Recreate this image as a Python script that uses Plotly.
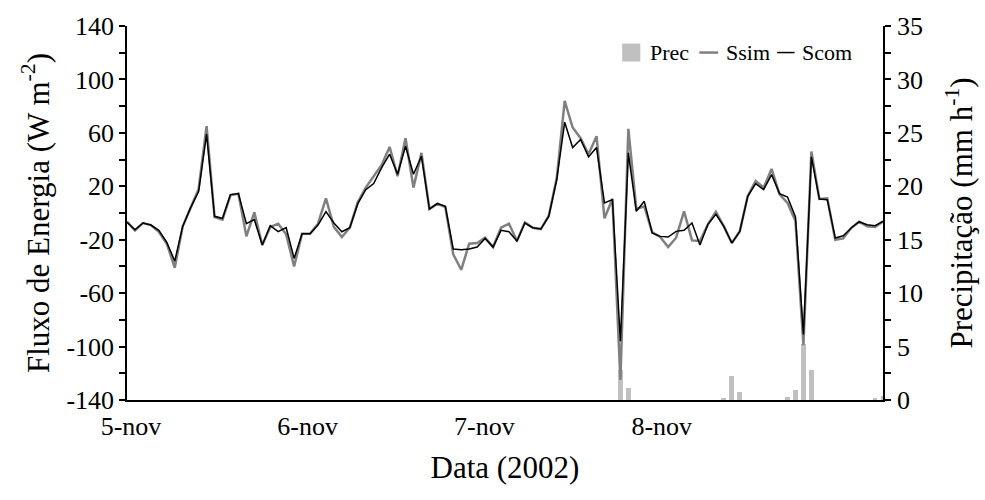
import plotly.graph_objects as go

hours = list(range(96))

ssim = [-6.5, -13, -7.5, -9, -14, -23, -41, -10, 4, 18, 65, -3, -5,
        13.25, 14.5, -17.5, 0.5, -24, -10.5, -8, -16, -40, -15.5, -15.5, -8, 11, -10.5, -18, -11,
        8, 19, 27.5, 36, 49.5, 27.5, 56, 19, 45, 3, 7, 4.5,
        -31, -42.5, -23, -22.5, -18.5, -25.5, -11, -8, -21, -7, -11, -12, -2, 26,
        84, 64, 56, 44, 57.5, -4, 10.5, -125, 63, 3, 5, -14.5, -18, -25.5, -18.5, 1.25,
        -20.5, -21, -8.5, 1, -10, -22.5, -13.75, 12.5, 24, 19, 33, 14, 7.5, -6,
        -99, 46, 10.5, 11, -20, -19, -11.25, -6.5, -10, -10.5, -6.25]

scom = [-7, -12.5, -7.5, -9, -13, -22, -36, -10, 4, 16, 59, -2.5, -4,
        13.75, 14.5, -8, -5, -24, -9.5, -14, -11, -34, -15.5, -15.5, -9, 1, -7.5, -14, -11,
        7, 17.5, 22, 34, 44, 29, 50, 29, 42.5, 3, 7, 5,
        -27, -27.5, -27, -25.5, -19, -25.5, -13, -14, -21, -7.5, -11, -12, -2.5, 25,
        68, 49, 55, 42, 49, 7.5, 10, -96, 45, 1.25, 8.75, -15, -17.5, -18, -13.75, -13,
        -7.5, -24, -8.5, -1, -10, -22.5, -13.75, 12.5, 22, 17.5, 28.75, 14.5, 12, -3,
        -91, 42, 10.5, 10, -18.75, -17, -11.25, -6.5, -8.75, -9.5, -6.25]

prec = [0.0] * 96
prec_events = {62: 2.8, 63: 1.1, 75: 0.15, 76: 2.2, 77: 0.75, 83: 0.3, 84: 0.9,
               85: 5.2, 86: 2.8, 94: 0.1, 95: 0.4}
for k, v in prec_events.items():
    prec[k] = v

day_labels = ["5-nov", "6-nov", "7-nov", "8-nov"]
day_label_pos = [0.5, 22.7, 44.9, 67.2]

flux_major = list(range(-140, 141, 40))
flux_text = [str(v) for v in flux_major]
prec_major = list(range(0, 36, 5))
prec_text = [str(v) for v in prec_major]

series_names = ["Prec", "Ssim", "Scom"]
series_colors = ["#c0c0c0", "#808080", "#000000"]

FONT = "Liberation Serif"
FS = 26
LFS = 22

fig = go.Figure()
fig.add_trace(go.Bar(x=hours, y=prec, name=series_names[0], marker_color=series_colors[0],
                     marker_line_width=0, width=0.6, yaxis="y"))
fig.add_trace(go.Scatter(x=hours, y=ssim, name=series_names[1], mode="lines",
                         line=dict(color=series_colors[1], width=2.5), yaxis="y2"))
fig.add_trace(go.Scatter(x=hours, y=scom, name=series_names[2], mode="lines",
                         line=dict(color=series_colors[2], width=1.5), yaxis="y2"))

# custom compact legend (paper coordinates)
ly = 0.929
shapes = [
    dict(type="rect", xref="paper", yref="paper", x0=0.655, x1=0.679, y0=ly - 0.024, y1=ly + 0.024,
         fillcolor=series_colors[0], line=dict(width=0)),
    dict(type="line", xref="paper", yref="paper", x0=0.757, x1=0.782, y0=ly, y1=ly,
         line=dict(color=series_colors[1], width=2.5)),
    dict(type="line", xref="paper", yref="paper", x0=0.860, x1=0.883, y0=ly, y1=ly,
         line=dict(color=series_colors[2], width=1.5)),
]
annotations = [
    dict(text=series_names[0], x=0.689, y=ly, xref="paper", yref="paper", xanchor="left",
         yanchor="middle", showarrow=False, font=dict(size=LFS)),
    dict(text=series_names[1], x=0.790, y=ly, xref="paper", yref="paper", xanchor="left",
         yanchor="middle", showarrow=False, font=dict(size=LFS)),
    dict(text=series_names[2], x=0.890, y=ly, xref="paper", yref="paper", xanchor="left",
         yanchor="middle", showarrow=False, font=dict(size=LFS)),
]

fig.update_layout(
    width=985, height=500,
    margin=dict(l=127, r=102, t=26, b=100),
    paper_bgcolor="white", plot_bgcolor="white",
    font=dict(family=FONT, size=FS, color="black"),
    showlegend=False,
    shapes=shapes, annotations=annotations,
    bargap=0,
    xaxis=dict(range=[0, 95], tickvals=day_label_pos, ticktext=day_labels,
               ticks="", showgrid=False, zeroline=False, showline=True,
               linecolor="black", linewidth=1.5, ticklabelstandoff=2,
               title=dict(text="Data (2002)", standoff=16)),
    yaxis=dict(range=[0, 35], side="right", tickvals=prec_major, ticktext=prec_text,
               ticks="outside", ticklen=6, tickwidth=1.5, tickcolor="black",
               minor=dict(tick0=0, dtick=2.5, ticks="outside", ticklen=6, tickwidth=1.5,
                          tickcolor="black", showgrid=False),
               showgrid=False, zeroline=False, showline=True, linecolor="black",
               linewidth=1.5, ticklabelstandoff=1,
               title=dict(text="Precipitação (mm h<sup>-1</sup>)", standoff=28)),
    yaxis2=dict(range=[-140, 140], side="left", overlaying="y", tickvals=flux_major,
                ticktext=flux_text, ticks="outside", ticklen=6, tickwidth=1.5,
                tickcolor="black",
                minor=dict(tick0=-140, dtick=20, ticks="outside", ticklen=6, tickwidth=1.5,
                           tickcolor="black", showgrid=False),
                showgrid=False, zeroline=False, showline=True,
                linecolor="black", linewidth=1.5, ticklabelstandoff=0,
                title=dict(text="Fluxo de Energia (W m<sup>-2</sup>)", standoff=8)),
)

fig.write_html("out.html")
